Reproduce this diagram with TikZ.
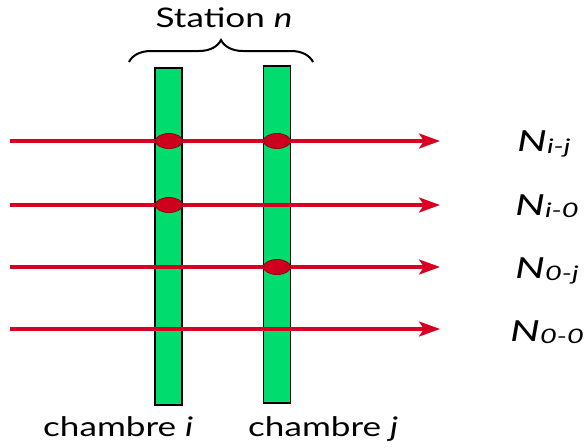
\documentclass[tikz,border=0pt]{standalone}
\usepackage{graphicx}
\usepackage{fontspec}
\setmainfont{Lato}
\usetikzlibrary{arrows.meta,decorations.pathreplacing,shapes.geometric}
\definecolor{bargreen}{RGB}{0,221,110}
\definecolor{trackred}{RGB}{215,0,35}
\definecolor{hitred}{RGB}{205,0,30}
\definecolor{hitedge}{RGB}{150,0,20}
\newcommand\widen[2]{\scalebox{#1}[1]{#2}}
\newcommand\ratelabel[2]{\widen{1.45}{\fontsize{29}{31}\selectfont\itshape #1\raisebox{-2pt}{\fontsize{20}{22}\selectfont #2}}}
\newcommand\textlabel[1]{\widen{1.3}{\fontsize{27}{29}\selectfont #1}}
\tikzset{
  chamber/.style={draw=black, line width=1.4pt, fill=bargreen, minimum width=27pt, minimum height=337pt, inner sep=0pt},
  track/.style={draw=trackred, line width=3.2pt, -{Stealth[length=21pt,width=15pt,inset=5pt]}},
  hit/.style={ellipse, draw=hitedge, line width=0.8pt, fill=hitred, minimum width=27pt, minimum height=15pt, inner sep=0pt},
  rate/.style={anchor=base west, inner sep=0pt},
  lbl/.style={inner sep=0pt},
}
\begin{document}
\begin{tikzpicture}[x=1pt,y=-1pt]
\useasboundingbox (0,0) rectangle (585,447);
\node[chamber] (ci) at (168.5,236.5) {};
\node[chamber] (cj) at (277,234.5) {};
\foreach \y/\n in {141/a,205/b,267/c,329/d}{
  \coordinate (s\n) at (10,\y);
  \coordinate (e\n) at (440,\y);
  \draw[track] (s\n) -- (e\n);
}
\node[hit] (h1) at (169,141) {};
\node[hit] (h2) at (277,141) {};
\node[hit] (h3) at (169,205) {};
\node[hit] (h4) at (277,267) {};
\node[rate] (r1) at (517,151) {\ratelabel{N}{i-j}};
\node[rate] (r2) at (515,215) {\ratelabel{N}{i-0}};
\node[rate] (r3) at (515,278) {\ratelabel{N}{0-j}};
\node[rate] (r4) at (510,341) {\ratelabel{N}{0-0}};
\coordinate (bl) at (129,62);
\coordinate (br) at (313,62);
\draw[line width=2pt, decorate, decoration={brace, amplitude=22pt}] (bl) -- (br);
\node[lbl, anchor=base] (st) at (224,27) {\textlabel{Station \textit{n}}};
\node[lbl, anchor=base west] (li) at (43,436) {\textlabel{chambre \textit{i}}};
\node[lbl, anchor=base west] (lj) at (248,436) {\textlabel{chambre \textit{j}}};
\end{tikzpicture}
\end{document}
